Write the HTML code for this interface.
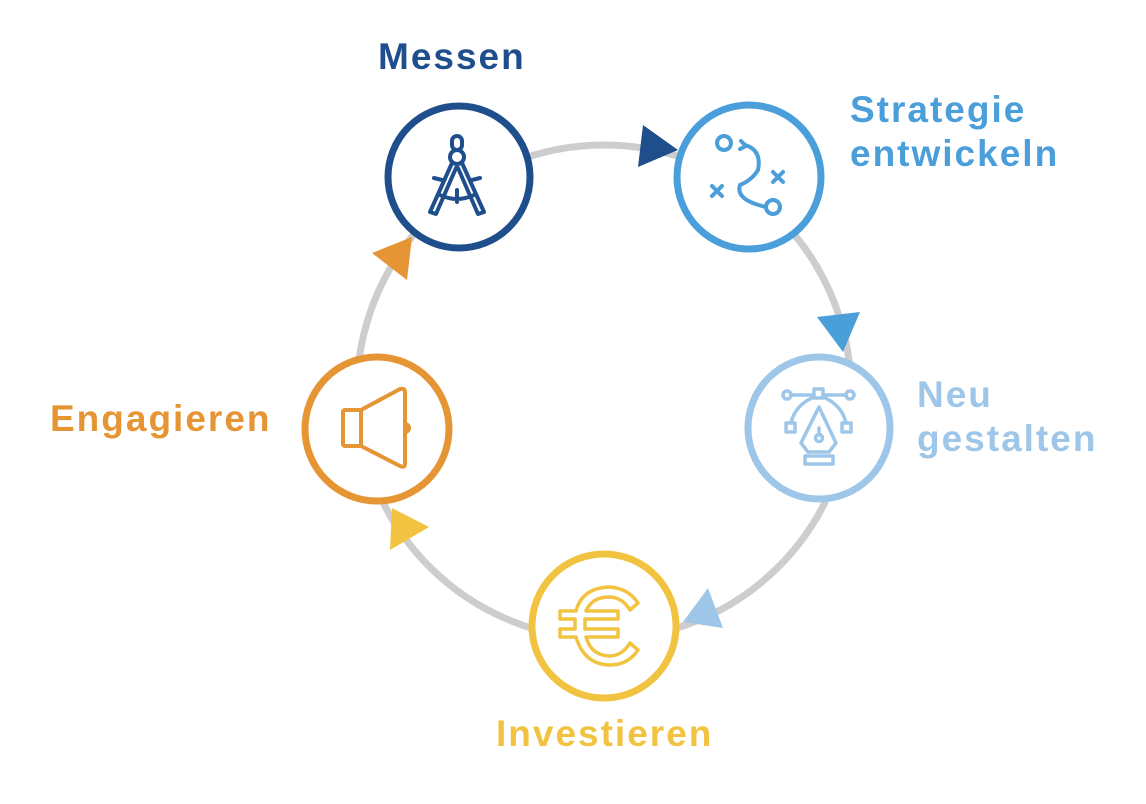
<!DOCTYPE html>
<html><head><meta charset="utf-8"><style>
html,body{margin:0;padding:0;background:#fff;}
body{width:1146px;height:804px;overflow:hidden;position:relative;font-family:"Liberation Sans",sans-serif;font-weight:bold;}
.t{position:absolute;font-size:37px;letter-spacing:2px;line-height:44px;white-space:nowrap;}
</style></head><body>
<svg width="1146" height="804" style="position:absolute;left:0;top:0">
<circle cx="604" cy="392" r="247" fill="none" stroke="#cdcdcd" stroke-width="7"/>
<g stroke-width="7" fill="#fff">
<circle cx="459" cy="177" r="71" stroke="#1f4e8c"/>
<circle cx="749" cy="177" r="72" stroke="#4a9ed9"/>
<circle cx="819" cy="428" r="71" stroke="#9dc6e8"/>
<circle cx="604" cy="626" r="72" stroke="#f2c340"/>
<circle cx="377" cy="429" r="72" stroke="#e69535"/>
</g>
<polygon points="643,125 638,167 678,150" fill="#1f4e8c"/>
<polygon points="817,317 860,312 843,352" fill="#4a9ed9"/>
<polygon points="683,622 708,588 723,628" fill="#9dc6e8"/>
<polygon points="392,508 390,550 429,527" fill="#f2c340"/>
<polygon points="412,237 372,253 407,280" fill="#e69535"/>
<!-- compass -->
<g stroke="#1f4e8c" stroke-width="4" fill="none" stroke-linecap="round" stroke-linejoin="round">
<rect x="452" y="136" width="10" height="14" rx="5"/>
<circle cx="457" cy="157" r="7"/>
<path d="M452 163 L430 212 L436 214 L456 168 M462 163 L484 212 L478 214 L458 168"/>
<path d="M442 180 L434 178 M472 180 L480 178 M440 195 Q457 203 474 195 M457 190 V202"/>
</g>
<!-- strategy -->
<g stroke="#4a9ed9" stroke-width="4" fill="none" stroke-linecap="round">
<circle cx="724" cy="143" r="7"/>
<circle cx="773" cy="207" r="7"/>
<path d="M745 145 Q762 150 758 170 Q752 180 740 185 Q735 200 766 207"/>
<path d="M741 141 L746 146 L740 149"/>
<path d="M712 186 L722 196 M722 186 L712 196 M773 172 L783 182 M783 172 L773 182"/>
</g>
<!-- pen tool -->
<g stroke="#9dc6e8" stroke-width="3.5" fill="none" stroke-linecap="round" stroke-linejoin="round">
<circle cx="787" cy="395" r="4"/><circle cx="850" cy="395" r="4"/>
<rect x="814" y="389" width="9" height="9"/>
<path d="M791 395 H814 M823 395 H846"/>
<path d="M814 397 Q795 405 791 423 M823 397 Q842 405 846 423"/>
<rect x="786" y="423" width="9" height="9"/><rect x="842" y="423" width="9" height="9"/>
<path d="M819 407 L801 443 L808 452 H829 L836 443 Z"/>
<circle cx="819" cy="438" r="3.5"/><path d="M819 428 V435"/>
<rect x="805" y="456" width="28" height="8"/>
</g>
<!-- euro -->
<g stroke="#f2c340" stroke-width="3.5" fill="none" stroke-linejoin="round">
<path d="M638 603 Q628 588 609 587 Q582 588 576 611 H560 V619 H575 V629 H560 V637 H576 Q584 664 609 665 Q628 665 638 650 L630 643 Q622 656 609 656 Q591 655 586 637 H618 V629 H585 V619 H618 V611 H586 Q592 597 609 597 Q622 597 630 610 Z"/>
</g>
<!-- speaker -->
<g stroke="#e69535" stroke-width="4" fill="none" stroke-linejoin="round">
<rect x="343" y="410" width="18" height="36" rx="2"/>
<path d="M361 410 L400 389 Q405 388 405 392 V464 Q405 468 400 466 L361 446"/>
<path d="M405 424 A4 4 0 0 1 405 432"/>
</g>
</svg>
<div class="t" style="left:378px;top:35px;color:#1f4e8c">Messen</div>
<div class="t" style="left:850px;top:88px;color:#4a9ed9">Strategie<br>entwickeln</div>
<div class="t" style="left:917px;top:373px;color:#9dc6e8">Neu<br>gestalten</div>
<div class="t" style="left:50px;top:397px;color:#e69535">Engagieren</div>
<div class="t" style="left:496px;top:712px;color:#f2c340">Investieren</div>
</body></html>
